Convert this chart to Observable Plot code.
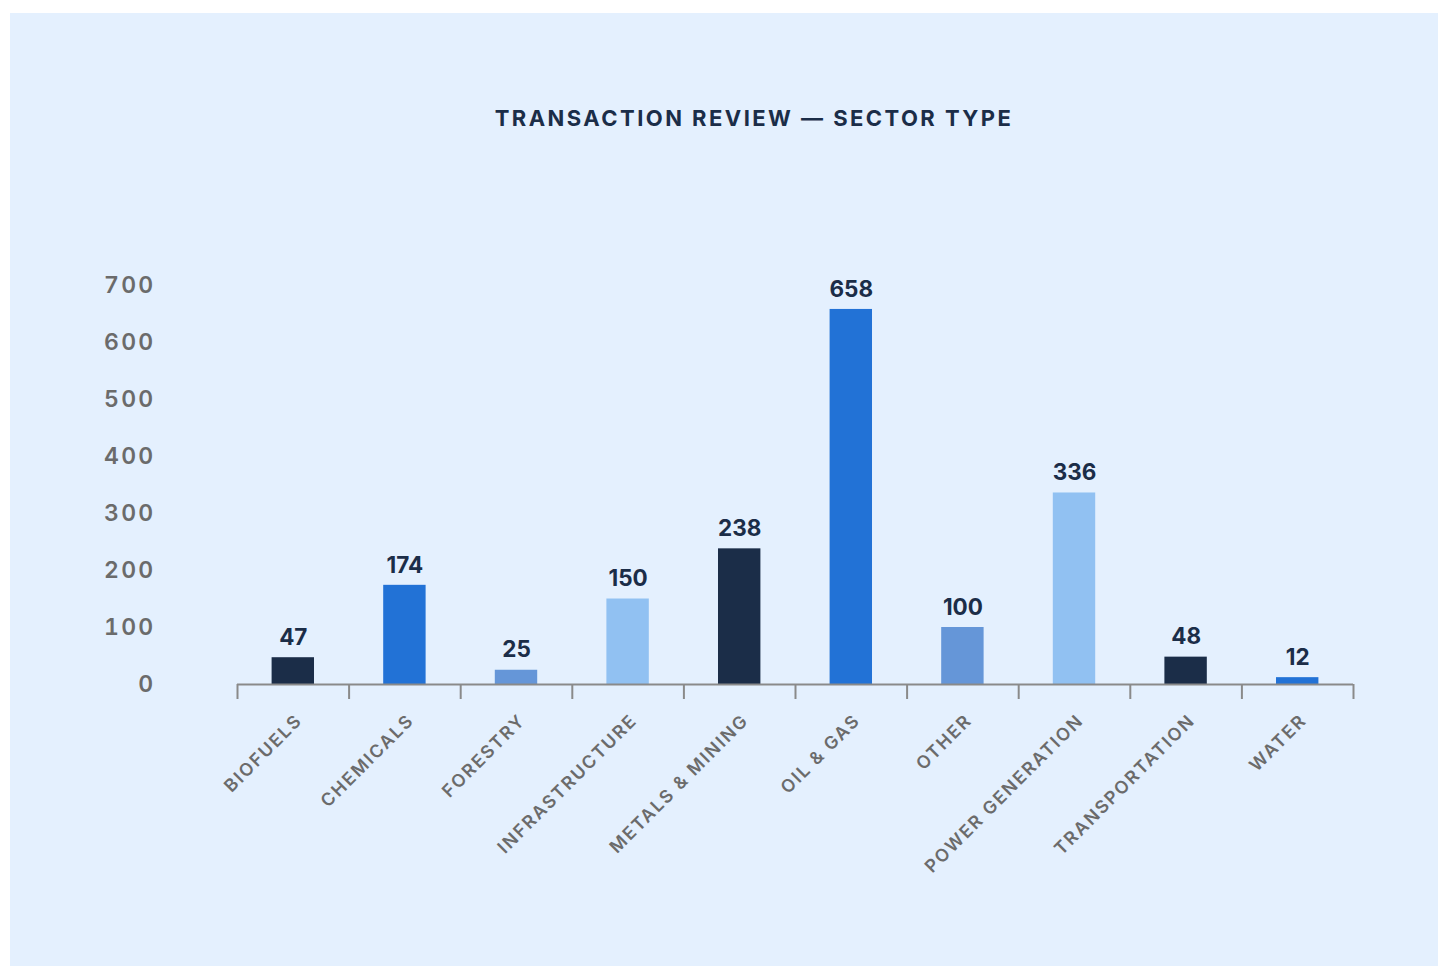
<!DOCTYPE html>
<html>
<head>
<meta charset="utf-8">
<script src="https://cdn.jsdelivr.net/npm/d3@7"></script>
<script src="https://cdn.jsdelivr.net/npm/@observablehq/plot@0.6"></script>
<style>
  html, body { margin: 0; padding: 0; background: #ffffff; width: 1438px; height: 966px; overflow: hidden; }
  #panel { position: absolute; left: 10px; top: 13px; width: 1428px; height: 953px; background: #e4f0fe; }
  #title { position: absolute; left: 0; width: 1488px; top: 92px; text-align: center;
    font-family: Inter, "Noto Sans", sans-serif; font-weight: 700; font-size: 22px; letter-spacing: 2.45px; color: #1b2d48; }
  #chart { position: absolute; left: 0; top: 0; }
  #chart svg { font-family: Inter, "Noto Sans", sans-serif; }
  [aria-label="y-axis tick label"] text { letter-spacing: 2.3px; }
  [aria-label="x-axis tick label"] text { letter-spacing: 1.9px; }
  [aria-label="values"] text { letter-spacing: 2px; }
</style>
</head>
<body>
<div id="panel">
  <div id="title">TRANSACTION REVIEW — SECTOR TYPE</div>
  <div id="chart"></div>
</div>
<script>
const categories = ["BIOFUELS", "CHEMICALS", "FORESTRY", "INFRASTRUCTURE", "METALS & MINING", "OIL & GAS", "OTHER", "POWER GENERATION", "TRANSPORTATION", "WATER"];
const values = [47, 174, 25, 150, 238, 658, 100, 336, 48, 12];
const barColors = ["#1b2d48", "#2272d6", "#6596d8", "#91c1f2", "#1b2d48", "#2272d6", "#6596d8", "#91c1f2", "#1b2d48", "#2272d6"];
const yTicks = [0, 100, 200, 300, 400, 500, 600, 700];

const data = categories.map((c, i) => ({category: c, value: values[i], color: barColors[i]}));

const W = 1428, H = 953;
const mL = 227, mR = 85, mT = 272, mB = 282;
const step = (W - mL - mR) / categories.length;
const pxPerUnit = (H - mT - mB) / 700;
const tickLen = 15 / pxPerUnit;

const chart = Plot.plot({
  width: W,
  height: H,
  marginLeft: mL,
  marginRight: mR,
  marginTop: mT,
  marginBottom: mB,
  style: {background: "transparent", overflow: "visible"},
  x: {domain: categories, paddingInner: 0.62, paddingOuter: 0.31, round: false, label: null},
  y: {domain: [0, 700], label: null},
  marks: [
    Plot.barY(data, {x: "category", y: "value", fill: "color"}),
    Plot.ruleY([0], {stroke: "#8a8a8a", strokeWidth: 2}),
    Plot.ruleX(categories, {x: d => d, dx: -step / 2, y1: 0, y2: -tickLen, stroke: "#8a8a8a", strokeWidth: 2}),
    Plot.ruleX(categories.slice(-1), {x: d => d, dx: step / 2, y1: 0, y2: -tickLen, stroke: "#8a8a8a", strokeWidth: 2}),
    Plot.axisY({ticks: yTicks, tickSize: 0, tickPadding: 82, fontSize: 23, fontWeight: 600, fill: "#6b6b6b", tickFormat: d => String(d)}),
    Plot.axisX({tickSize: 0, tickRotate: -45, textAnchor: "end", tickPadding: 33, dx: 6, fontSize: 17.8, fontWeight: 600, fill: "#6b6b6b"}),
    Plot.text(data, {x: "category", y: "value", text: d => String(d.value), dy: -20, fontSize: 22.5, fontWeight: 700, fill: "#1b2d48", ariaLabel: "values"})
  ]
});
document.getElementById("chart").appendChild(chart);
</script>
</body>
</html>
